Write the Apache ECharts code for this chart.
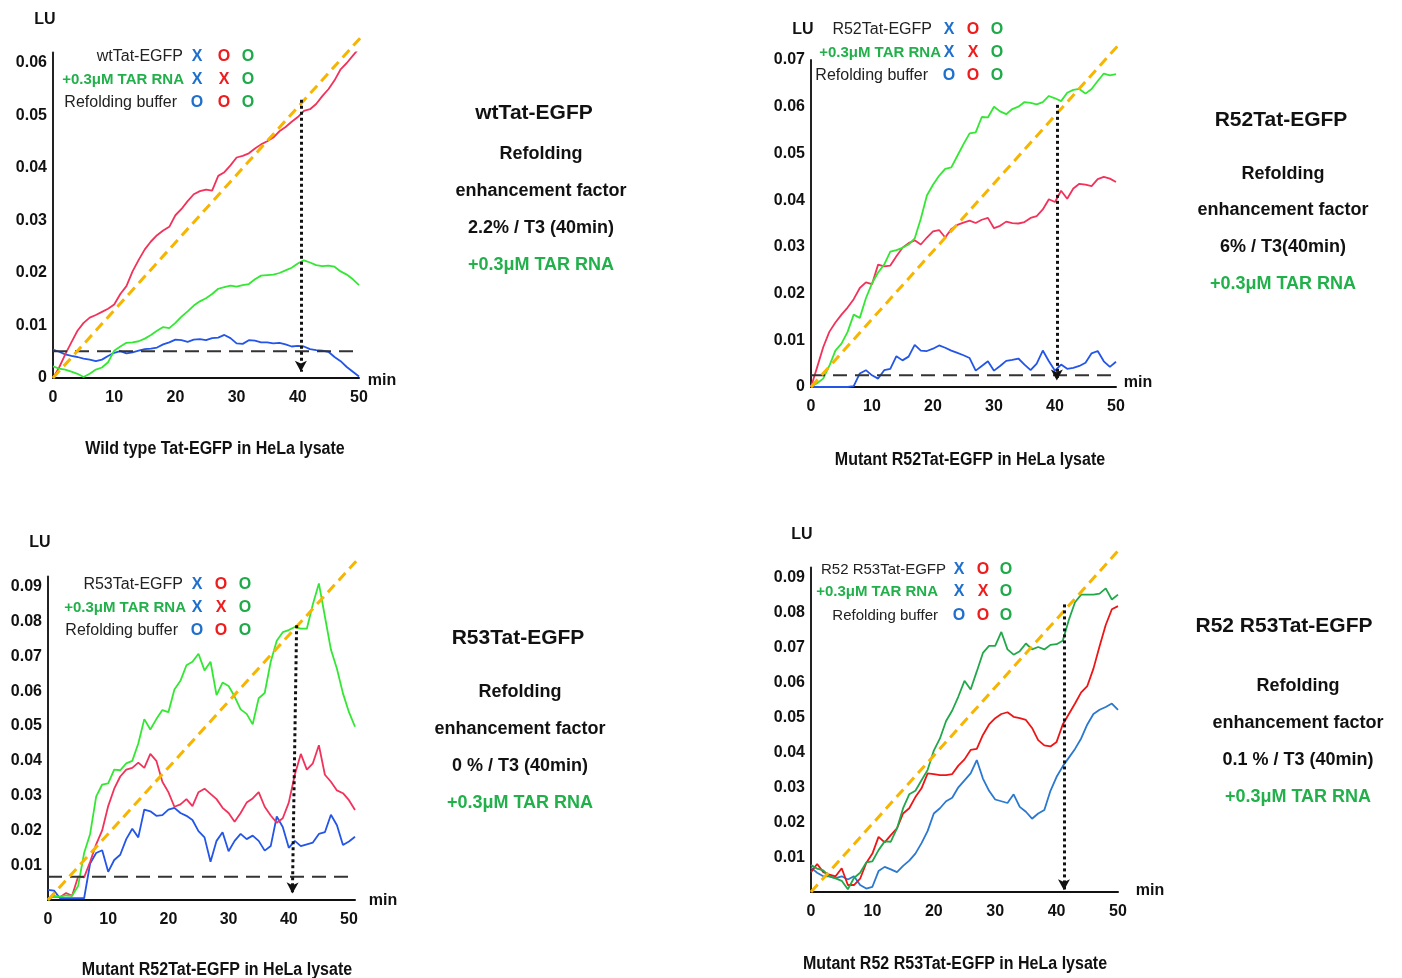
<!DOCTYPE html>
<html>
<head>
<meta charset="utf-8">
<script src="https://cdn.jsdelivr.net/npm/echarts@6/dist/echarts.min.js"></script>
<style>
html, body { margin: 0; background: #fff; }
#chart { width: 1402px; height: 978px; }
</style>
</head>
<body>
<div id="chart"></div>
<script>
// time axis (min)
var minutes = [0,1,2,3,4,5,6,7,8,9,10,11,12,13,14,15,16,17,18,19,20,21,22,23,24,25,26,27,28,29,30,
               31,32,33,34,35,36,37,38,39,40,41,42,43,44,45,46,47,48,49,50,51];

// wild type Tat-EGFP (LU)
var wtRed = [0,0.002,0.0045,0.0068,0.009,0.0105,0.0115,0.012,0.0126,0.0132,
    0.014,0.016,0.0175,0.0203,0.0225,0.0245,0.026,0.0272,0.0281,0.0288,
    0.031,0.0322,0.0337,0.035,0.0356,0.0359,0.0357,0.0385,0.0392,0.0405,
    0.042,0.0423,0.0428,0.0437,0.0445,0.0451,0.0458,0.047,0.0478,0.0488,
    0.0497,0.0509,0.0512,0.0522,0.0537,0.055,0.0567,0.0588,0.06,0.0614,0.0628];
var wtGreen = [0.0022,0.0018,0.0016,0.0012,0.0008,0.0002,0.0008,0.0016,0.002,0.003,
    0.0052,0.006,0.0067,0.0068,0.007,0.0075,0.0082,0.009,0.0097,0.0095,
    0.0105,0.0117,0.0127,0.0138,0.0146,0.0152,0.016,0.017,0.0173,0.0176,
    0.0174,0.0177,0.0179,0.0188,0.0195,0.0196,0.0197,0.02,0.0205,0.021,
    0.0218,0.0224,0.022,0.0215,0.0213,0.0214,0.0212,0.0203,0.0197,0.0188,0.0177];
var wtBlue = [0.0054,0.005,0.0045,0.0042,0.004,0.0037,0.0035,0.0032,0.0035,0.0042,
    0.0048,0.0051,0.0047,0.0049,0.0052,0.0055,0.0056,0.0058,0.0064,0.0068,
    0.0073,0.0072,0.0069,0.0073,0.0074,0.0072,0.0076,0.0077,0.0082,0.0076,
    0.0066,0.0065,0.0072,0.0071,0.0068,0.0068,0.0066,0.0067,0.0064,0.006,
    0.0061,0.006,0.0055,0.0053,0.0052,0.005,0.004,0.0032,0.0021,0.0012,0.0003];

// R52Tat-EGFP
var r52Green = [0,0.0008,0.0018,0.0045,0.0078,0.0093,0.0118,0.0155,0.0148,0.019,
    0.0222,0.0245,0.0262,0.029,0.0293,0.0298,0.0305,0.0318,0.036,0.041,
    0.0433,0.0452,0.0467,0.047,0.0495,0.052,0.0543,0.0545,0.0578,0.0577,
    0.06,0.059,0.0584,0.0595,0.06,0.061,0.0608,0.0605,0.061,0.0623,
    0.0618,0.0612,0.063,0.0636,0.0638,0.0628,0.0638,0.0655,0.0671,0.0667,0.067];
var r52Red = [0,0.0042,0.0085,0.0118,0.0138,0.0155,0.017,0.0188,0.0212,0.0224,
    0.022,0.0262,0.0258,0.026,0.028,0.0298,0.0308,0.0314,0.0305,0.032,
    0.0333,0.0336,0.032,0.0338,0.0347,0.0352,0.0356,0.0351,0.0358,0.0362,
    0.034,0.0345,0.0354,0.0351,0.035,0.0353,0.0362,0.0366,0.038,0.0402,
    0.0396,0.042,0.0403,0.0425,0.0435,0.0433,0.043,0.0445,0.045,0.0446,0.0439];
var r52Blue = [0,0,0,0,0,0,0,0.0002,0.0029,0.0036,
    0.0025,0.0018,0.0036,0.0039,0.0066,0.0057,0.0065,0.009,0.0078,0.0077,
    0.0082,0.0089,0.0084,0.0078,0.0073,0.0068,0.0062,0.0035,0.0045,0.0055,
    0.0035,0.0045,0.0056,0.0058,0.0061,0.0048,0.0036,0.005,0.0078,0.0055,
    0.0035,0.0048,0.0039,0.0041,0.0045,0.0052,0.0072,0.0077,0.0055,0.0043,0.0054];

// R53Tat-EGFP
var r53Green = [0,0.0012,0.001,0.0013,0.0012,0.004,0.0135,0.019,0.0297,0.0332,
    0.0335,0.0375,0.0373,0.0393,0.04,0.045,0.052,0.049,0.052,0.0546,
    0.054,0.0605,0.063,0.0675,0.0685,0.0708,0.066,0.0685,0.0589,0.0625,
    0.0615,0.0585,0.0548,0.0535,0.0505,0.058,0.0595,0.0685,0.0745,0.077,
    0.0776,0.0785,0.078,0.078,0.085,0.091,0.0815,0.072,0.0665,0.0594,0.054,0.0498];
var r53Red = [0.0005,0.001,0.0008,0.002,0.0012,0.0067,0.0065,0.011,0.016,0.02,
    0.027,0.032,0.0355,0.0375,0.038,0.0395,0.038,0.042,0.04,0.034,
    0.031,0.0268,0.0275,0.029,0.027,0.031,0.032,0.0305,0.029,0.0265,
    0.025,0.0225,0.025,0.028,0.0292,0.031,0.0268,0.0243,0.0222,0.0235,
    0.028,0.036,0.042,0.0375,0.0393,0.0445,0.036,0.034,0.0315,0.0307,0.0287,0.0259];
var r53Blue = [0.0029,0.0027,0.0005,0.0005,0.0005,0.0005,0.0005,0.0105,0.0135,0.0143,
    0.0081,0.0115,0.013,0.0175,0.0205,0.018,0.026,0.0255,0.0242,0.0244,
    0.026,0.0265,0.025,0.0242,0.023,0.0198,0.018,0.011,0.017,0.0195,
    0.014,0.017,0.019,0.0175,0.0185,0.017,0.0142,0.0155,0.024,0.021,
    0.015,0.017,0.0155,0.016,0.0165,0.019,0.0195,0.0245,0.0215,0.0158,0.0168,0.0182];

// R52 R53Tat-EGFP
var dblGreen = [0.0077,0.0067,0.0062,0.0045,0.0039,0.0032,0.0008,0.004,0.0055,0.0085,
    0.0088,0.012,0.0145,0.0144,0.0182,0.024,0.028,0.029,0.032,0.035,
    0.0405,0.044,0.049,0.052,0.056,0.0605,0.058,0.0632,0.0685,0.0705,
    0.0705,0.0745,0.0695,0.068,0.069,0.0712,0.0695,0.0702,0.0695,0.0708,
    0.071,0.072,0.078,0.083,0.0852,0.0852,0.0852,0.0855,0.087,0.0838,0.0852];
var dblRed = [0.0057,0.008,0.0057,0.005,0.0045,0.0068,0.002,0.002,0.0038,0.0083,
    0.011,0.0158,0.0142,0.0163,0.0182,0.0225,0.024,0.0272,0.0297,0.034,
    0.0338,0.0335,0.0335,0.0338,0.0362,0.038,0.0407,0.041,0.045,0.048,
    0.0498,0.051,0.0515,0.0502,0.0498,0.0493,0.047,0.0435,0.042,0.0417,
    0.043,0.048,0.051,0.054,0.0572,0.059,0.064,0.0704,0.0765,0.081,0.0819];
var dblBlue = [0.007,0.0055,0.0045,0.0045,0.004,0.0045,0.0036,0.0045,0.002,0.001,
    0.0015,0.006,0.0072,0.0065,0.0057,0.0075,0.009,0.011,0.014,0.0175,
    0.0225,0.024,0.026,0.027,0.03,0.032,0.034,0.0378,0.0325,0.029,
    0.0265,0.026,0.0255,0.028,0.0244,0.023,0.021,0.0225,0.0235,0.029,
    0.033,0.036,0.0385,0.041,0.044,0.048,0.051,0.0522,0.053,0.054,0.0522];

// guide lines: end of yellow diagonal, background level, T3 arrow (top / bottom)
var guideEndX = [50.7, 50.4, 51.5, 50.5];
var guideEndY = [0.0654, 0.0732, 0.098, 0.0987];
var baseLevel = [0.0051, 0.0025, 0.0067, null];
var arrowTopX = [40.5, 40.3, 41.3, 41.2];
var arrowTopY = [0.053, 0.0604, 0.079, 0.0824];
var arrowBottomX = [40.5, 40.3, 40.6, 41.2];
var arrowBottomY = [0.0012, 0.0014, 0.0019, 0.0005];

var FONT = '"Liberation Sans", Arial, sans-serif';

function pairs(values){
    return values.map(function(v, i){ return [minutes[i], v]; });
}

var brightSet = ['#2255e8', '#f2325a', '#33e833'];
var darkSet = ['#2a78d0', '#ee1515', '#22a84a'];

var panels = [
    {grid: {left: 53, top: 52.5, width: 306, height: 325.5}, xMax: 50, yMax: 0.062, maxLabel: false, minLabel: true,
     colors: brightSet, lines: [wtBlue, wtRed, wtGreen]},
    {grid: {left: 811, top: 60, width: 305, height: 327}, xMax: 50, yMax: 0.07, maxLabel: true, minLabel: true,
     colors: brightSet, lines: [r52Blue, r52Red, r52Green]},
    {grid: {left: 48, top: 576.5, width: 307, height: 323.5}, xMax: 51, yMax: 0.093, maxLabel: false, minLabel: false,
     colors: brightSet, lines: [r53Blue, r53Red, r53Green]},
    {grid: {left: 811, top: 567.4, width: 307, height: 324.6}, xMax: 50, yMax: 0.093, maxLabel: false, minLabel: false,
     colors: darkSet, lines: [dblBlue, dblRed, dblGreen]}
];

var option = {
    backgroundColor: '#fff',
    animation: false,
    grid: [], xAxis: [], yAxis: [], series: [], graphic: []
};

panels.forEach(function(p, k){
    option.grid.push(p.grid);
    option.xAxis.push({
        type: 'value', gridIndex: k, min: 0, max: p.xMax, interval: 10,
        axisLine: {lineStyle: {color: '#111', width: 2}},
        axisTick: {show: false},
        splitLine: {show: false},
        axisLabel: {margin: 12, color: '#111', fontSize: 16, fontWeight: 'bold', fontFamily: FONT,
                    showMaxLabel: p.xMax === 50}
    });
    option.yAxis.push({
        type: 'value', gridIndex: k, min: 0, max: p.yMax, interval: 0.01,
        axisLine: {show: true, lineStyle: {color: '#222', width: 2}},
        axisTick: {show: false},
        splitLine: {show: false},
        axisLabel: {margin: 6, color: '#111', fontSize: 16, fontWeight: 'bold', fontFamily: FONT,
                    showMaxLabel: p.maxLabel, showMinLabel: p.minLabel,
                    formatter: function(v){ return v === 0 ? '0' : v.toFixed(2); }}
    });
    p.lines.forEach(function(vals, j){
        option.series.push({
            type: 'line', xAxisIndex: k, yAxisIndex: k, data: pairs(vals),
            showSymbol: false, symbol: 'none',
            lineStyle: {color: p.colors[j], width: 1.8}
        });
    });
    if (baseLevel[k] !== null){
        option.series.push({
            type: 'line', xAxisIndex: k, yAxisIndex: k,
            data: [[0, baseLevel[k]], [p.xMax === 51 ? 50.4 : 50, baseLevel[k]]],
            showSymbol: false, symbol: 'none',
            lineStyle: {color: '#333', width: 2, type: [14, 8]}
        });
    }
    // yellow diagonal with the T3 arrow as markLine
    option.series.push({
        type: 'line', xAxisIndex: k, yAxisIndex: k, clip: false,
        data: [[0, 0], [guideEndX[k], guideEndY[k]]],
        showSymbol: false, symbol: 'none',
        lineStyle: {color: '#f7b500', width: 3, type: [10, 6]},
        markLine: {
            silent: true, animation: false,
            symbol: ['none', 'arrow'], symbolSize: [9, 11],
            label: {show: false},
            lineStyle: {color: '#111', width: 3, type: 'dotted'},
            data: [[{coord: [arrowTopX[k], arrowTopY[k]]}, {coord: [arrowBottomX[k], arrowBottomY[k]]}]]
        }
    });
});

// text helper
function txt(x, y, text, font, color, align, sx){
    return {
        type: 'text', x: x, y: y, silent: true, scaleX: sx || 1,
        style: {text: text, font: font, fill: color || '#111',
                textAlign: align || 'center', textVerticalAlign: 'middle',
                align: align || 'center', verticalAlign: 'middle'}
    };
}

var G = option.graphic;
// axis names
[[45, 20, 382, 381], [803, 30, 1138, 383], [40, 543, 383, 901], [802, 535, 1150, 891]].forEach(function(a){
    G.push(txt(a[0], a[1], 'LU', 'bold 16px ' + FONT));
    G.push(txt(a[2], a[3], 'min', 'bold 16px ' + FONT));
});

// legends
var legendNames = [
    ['wtTat-EGFP', 'R52Tat-EGFP', 'R53Tat-EGFP', 'R52 R53Tat-EGFP'],
    '+0.3μM TAR RNA',
    'Refolding buffer'
];
var markRows = [['X', 'O', 'O'], ['X', 'X', 'O'], ['O', 'O', 'O']];
var markColors = ['#1f6fcc', '#ee1c1c', '#1faa4a'];
var legendLayout = [
    {rows: [57, 80, 103], ends: [183, 184, 177], marks: [197, 224, 248], size: 16},
    {rows: [30, 53, 76], ends: [932, 941, 928], marks: [949, 973, 997], size: 16},
    {rows: [585, 608, 631], ends: [183, 186, 178], marks: [197, 221, 245], size: 16},
    {rows: [570, 592, 616], ends: [946, 938, 938], marks: [959, 983, 1006], size: 15}
];
legendLayout.forEach(function(L, k){
    for (var r = 0; r < 3; r++){
        var name = r === 0 ? legendNames[0][k] : legendNames[r];
        if (r === 1){
            G.push(txt(L.ends[r], L.rows[r], name, 'bold 15px ' + FONT, '#22b04b', 'right'));
        } else {
            G.push(txt(L.ends[r], L.rows[r], name, L.size + 'px ' + FONT, '#222', 'right'));
        }
        for (var m = 0; m < 3; m++){
            G.push(txt(L.marks[m], L.rows[r], markRows[r][m], 'bold 16px ' + FONT, markColors[m]));
        }
    }
});

// side notes
var notes = [
    {title: 'wtTat-EGFP', factor: '2.2% / T3 (40min)', tx: 534, ty: 113, x: 541, ys: [154, 191, 228, 265]},
    {title: 'R52Tat-EGFP', factor: '6% / T3(40min)', tx: 1281, ty: 120, x: 1283, ys: [174, 210, 247, 284]},
    {title: 'R53Tat-EGFP', factor: '0 % / T3 (40min)', tx: 518, ty: 638, x: 520, ys: [692, 729, 766, 803]},
    {title: 'R52 R53Tat-EGFP', factor: '0.1 % / T3 (40min)', tx: 1284, ty: 626, x: 1298, ys: [686, 723, 760, 797]}
];
notes.forEach(function(n){
    G.push(txt(n.tx, n.ty, n.title, 'bold 21px ' + FONT));
    G.push(txt(n.x, n.ys[0], 'Refolding', 'bold 18px ' + FONT));
    G.push(txt(n.x, n.ys[1], 'enhancement factor', 'bold 18px ' + FONT));
    G.push(txt(n.x, n.ys[2], n.factor, 'bold 18px ' + FONT));
    G.push(txt(n.x, n.ys[3], '+0.3μM TAR RNA', 'bold 18px ' + FONT, '#22b04b'));
});

// captions (condensed bold)
var captions = [
    ['Wild type Tat-EGFP in HeLa lysate', 215, 449],
    ['Mutant R52Tat-EGFP in HeLa lysate', 970, 460],
    ['Mutant R52Tat-EGFP in HeLa lysate', 217, 970],
    ['Mutant R52 R53Tat-EGFP in HeLa lysate', 955, 964]
];
captions.forEach(function(c){
    G.push(txt(c[1], c[2], c[0], 'bold 18px ' + FONT, '#111', 'center', 0.89));
});

var myChart = echarts.init(document.getElementById('chart'));
myChart.setOption(option);
</script>
</body>
</html>
